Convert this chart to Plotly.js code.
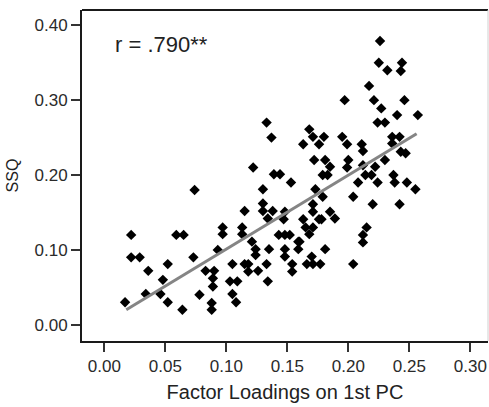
<!DOCTYPE html>
<html>
<head>
<meta charset="utf-8">
<script src="https://cdn.plot.ly/plotly-3.0.1.min.js"></script>
<style>html,body{margin:0;padding:0;background:#fff;}#chart{width:489px;height:407px;}</style>
</head>
<body>
<div id="chart"></div>
<script>
// Factor loadings on 1st PC (x) and SSQ (y)
const loadings = [
  0.017,0.022,0.022,0.029,0.034,0.036,0.046,0.048,0.052,0.052,
  0.059,0.065,0.064,0.073,0.074,0.078,0.083,0.088,0.088,0.089,
  0.089,0.090,0.093,0.097,0.097,0.105,0.103,0.109,0.105,0.108,
  0.113,0.113,0.115,0.115,0.118,0.118,0.121,0.122,0.124,0.124,
  0.126,0.130,0.130,0.130,0.133,0.137,0.133,0.134,0.135,0.134,
  0.138,0.139,0.144,0.143,0.148,0.152,0.147,0.148,0.148,0.148,
  0.153,0.154,0.154,0.159,0.160,0.159,0.163,0.163,0.165,0.168,
  0.171,0.168,0.166,0.171,0.170,0.171,0.171,0.173,0.171,0.172,
  0.176,0.176,0.178,0.180,0.181,0.179,0.183,0.179,0.181,0.177,
  0.185,0.185,0.189,0.195,0.197,0.199,0.200,0.199,0.204,0.204,
  0.208,0.211,0.212,0.212,0.217,0.214,0.219,0.212,0.212,0.215,
  0.220,0.221,0.222,0.224,0.224,0.230,0.225,0.226,0.227,0.232,
  0.230,0.236,0.236,0.242,0.237,0.238,0.240,0.242,0.244,0.243,
  0.243,0.247,0.246,0.248,0.255,0.257
];
const ssq = [
  0.030,0.120,0.090,0.090,0.041,0.072,0.041,0.060,0.081,0.030,
  0.120,0.120,0.020,0.090,0.180,0.040,0.072,0.029,0.020,0.062,
  0.051,0.072,0.100,0.130,0.121,0.081,0.058,0.058,0.041,0.030,
  0.130,0.121,0.152,0.081,0.081,0.071,0.111,0.210,0.101,0.093,
  0.072,0.181,0.162,0.152,0.270,0.250,0.081,0.142,0.101,0.058,
  0.152,0.201,0.201,0.120,0.120,0.120,0.141,0.151,0.101,0.091,
  0.190,0.081,0.071,0.111,0.111,0.101,0.141,0.241,0.130,0.261,
  0.251,0.121,0.081,0.081,0.091,0.151,0.130,0.181,0.161,0.220,
  0.241,0.141,0.141,0.251,0.220,0.200,0.200,0.171,0.101,0.081,
  0.211,0.151,0.142,0.251,0.300,0.241,0.220,0.210,0.171,0.081,
  0.190,0.241,0.232,0.213,0.319,0.200,0.200,0.120,0.110,0.130,
  0.161,0.300,0.211,0.190,0.270,0.270,0.350,0.379,0.289,0.340,
  0.220,0.242,0.251,0.251,0.200,0.190,0.280,0.161,0.350,0.339,
  0.231,0.229,0.300,0.190,0.181,0.280
];
// Fit line end points as drawn in the reference
const fitX = [0.018, 0.256];
const fitY = [0.020, 0.255];
const xTicks = [0.00, 0.05, 0.10, 0.15, 0.20, 0.25, 0.30];
const yTicks = [0.00, 0.10, 0.20, 0.30, 0.40];
const rLabel = 'r = .790**';

const font = 'Liberation Sans, Arial, sans-serif';
const traces = [
  {x: loadings, y: ssq, type: 'scatter', mode: 'markers',
   marker: {symbol: 'diamond', size: 8, color: '#000'}, hoverinfo: 'skip'},
  {x: fitX, y: fitY, type: 'scatter', mode: 'lines',
   line: {color: '#858585', width: 3}, hoverinfo: 'skip'}
];
const axisCommon = {
  showgrid: false, zeroline: false, showline: true, linecolor: '#1a1a1a', linewidth: 2,
  ticks: 'outside', ticklen: 9, tickwidth: 2, tickcolor: '#333',
  tickfont: {family: font, size: 17, color: '#2a2a2a'}
};
const layout = {
  width: 489, height: 407,
  margin: {l: 82, r: 1, t: 10, b: 66},
  paper_bgcolor: '#fff', plot_bgcolor: '#fff',
  showlegend: false,
  xaxis: Object.assign({}, axisCommon, {
    range: [-0.0183, 0.3145], tickvals: xTicks, tickformat: '.2f', mirror: false,
    title: {text: 'Factor Loadings on 1st PC', font: {family: font, size: 20, color: '#222'}, standoff: 10}
  }),
  yaxis: Object.assign({}, axisCommon, {
    range: [-0.0217, 0.4204], tickvals: yTicks, tickformat: '.2f',
    title: {text: 'SSQ', font: {family: font, size: 16, color: '#222'}, standoff: 12}
  }),
  shapes: [
    {type: 'line', xref: 'paper', yref: 'paper', x0: 0, x1: 1, y0: 1, y1: 1, line: {color: '#1a1a1a', width: 2}},
    {type: 'line', xref: 'paper', yref: 'paper', x0: 1, x1: 1, y0: 0, y1: 1, line: {color: '#d0d0d0', width: 1}}
  ],
  annotations: [
    {text: rLabel, xref: 'paper', yref: 'paper', x: 0.076, y: 0.896, xanchor: 'left', yanchor: 'middle',
     showarrow: false, font: {family: font, size: 22, color: '#222'}}
  ]
};
Plotly.newPlot('chart', traces, layout, {displayModeBar: false, staticPlot: true});
</script>
</body>
</html>
